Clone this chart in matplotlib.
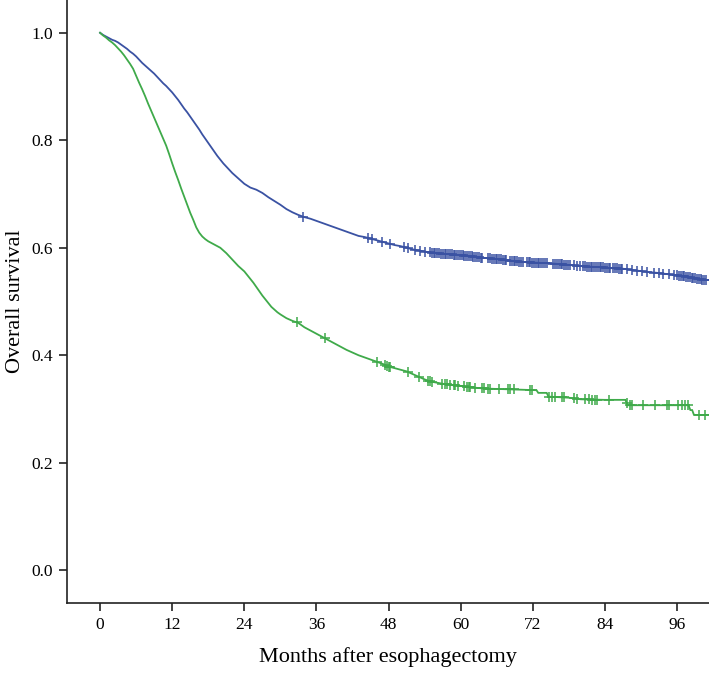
import numpy as np
import matplotlib
matplotlib.use("Agg")
import matplotlib.pyplot as plt

plt.rcParams['font.family'] = ['Liberation Serif', 'DejaVu Serif']

# ---- data ----
blue_t = [0, 0.5, 1, 1.5, 2, 2.5, 3, 3.5, 4, 4.5, 5, 5.5, 6, 6.5, 7, 7.5, 8, 8.5, 9, 9.5,
          10, 10.5, 11, 11.5, 12, 12.5, 13, 13.5, 14, 14.5, 15, 15.5, 16, 16.5, 17, 17.5,
          18, 18.5, 19, 19.5, 20, 20.5, 21, 21.5, 22, 22.5, 23, 23.5, 24, 25, 26, 27, 28,
          29, 30, 31, 32, 33, 34, 35, 36, 37, 38, 39, 40, 41, 42, 43, 44, 45, 46, 47, 48,
          49, 50, 51, 52, 53, 54, 55, 57, 59, 61, 63, 65, 67, 69, 71, 73, 75, 77, 79, 81,
          83, 85, 87, 89, 91, 93, 95, 97, 99, 100.5, 101.2]
blue_s = [1.000, 0.996, 0.993, 0.990, 0.987, 0.985, 0.982, 0.978, 0.974, 0.970, 0.965,
          0.961, 0.956, 0.950, 0.944, 0.939, 0.934, 0.929, 0.924, 0.918, 0.912, 0.906,
          0.901, 0.895, 0.889, 0.882, 0.875, 0.867, 0.859, 0.852, 0.844, 0.836, 0.828,
          0.820, 0.811, 0.803, 0.795, 0.787, 0.779, 0.771, 0.764, 0.757, 0.751, 0.745,
          0.739, 0.734, 0.729, 0.724, 0.719, 0.712, 0.708, 0.702, 0.694, 0.687, 0.680,
          0.672, 0.666, 0.661, 0.657, 0.654, 0.650, 0.646, 0.642, 0.638, 0.634, 0.630,
          0.626, 0.622, 0.620, 0.617, 0.614, 0.611, 0.608, 0.605, 0.603, 0.600, 0.597,
          0.595, 0.593, 0.591, 0.589, 0.587, 0.585, 0.582, 0.580, 0.578, 0.575, 0.573,
          0.572, 0.571, 0.569, 0.567, 0.565, 0.564, 0.562, 0.561, 0.558, 0.555, 0.553,
          0.550, 0.547, 0.543, 0.540, 0.540]
blue_cens = [33.8, 44.6, 45.2, 46.9, 48.3, 50.5, 51.3, 52.4, 53.2, 54.1,
             54.9, 55.2, 55.5, 55.8, 56.1, 56.4, 56.7, 57.0, 57.3, 57.6, 57.9, 58.2, 58.5,
             58.8, 59.1, 59.4, 59.7, 60.0, 60.3, 60.6, 60.9, 61.2, 61.5, 61.8, 62.1, 62.4,
             62.7, 63.0, 63.3, 63.6,
             64.6, 64.9, 65.2, 65.5, 65.8, 66.1, 66.4, 66.7, 67.0, 67.3, 67.6,
             68.2, 68.5, 68.8, 69.1, 69.4, 69.7, 70.0, 70.3,
             71.0, 71.3, 71.6, 71.9, 72.2, 72.5, 72.8, 73.1, 73.4, 73.7, 74.0, 74.3,
             75.4, 75.7, 76.0, 76.3, 76.6, 76.9, 77.2, 77.5, 77.8, 78.1,
             78.8, 79.3, 79.9,
             80.4, 80.7, 81.0, 81.3, 81.6, 81.9, 82.2, 82.5, 82.8, 83.1, 83.4, 83.7, 84.0,
             84.3, 84.6, 84.9,
             85.4, 85.7, 86.0, 86.3, 86.6, 86.9,
             87.6, 88.5, 89.3, 90.1, 91.0, 92.1, 92.9, 93.7, 94.6, 95.4,
             96.0, 96.3, 96.6, 96.9, 97.2, 97.5, 97.8, 98.1, 98.4, 98.7, 99.0, 99.3, 99.6,
             99.9, 100.2, 100.5, 100.8]

green_t = [0, 0.5, 1, 1.5, 2, 2.5, 3, 3.5, 4, 4.5, 5, 5.5, 6, 6.5, 7, 7.5, 8, 8.5, 9, 9.5,
           10, 10.5, 11, 11.5, 12, 12.5, 13, 13.5, 14, 14.5, 15, 15.5, 16, 16.5, 17, 17.5,
           18, 18.5, 19, 19.5, 20, 20.5, 21, 21.5, 22, 22.5, 23, 23.5, 24, 24.5, 25, 25.5,
           26, 26.5, 27, 27.5, 28, 28.5, 29, 29.5, 30, 31, 32, 33, 34, 35, 36, 37, 38, 39,
           40, 41, 42, 43, 44, 45, 46, 47, 48, 49, 50, 51, 52, 53, 54, 55, 56, 57, 58, 60,
           62, 64, 72.6, 72.9, 74.3, 74.6, 78, 80, 84, 87.4, 87.7, 97.9, 98.2, 98.5, 98.8,
           101.2]
green_s = [1.000, 0.995, 0.991, 0.986, 0.982, 0.977, 0.971, 0.965, 0.958, 0.950, 0.942,
           0.933, 0.920, 0.907, 0.895, 0.882, 0.868, 0.855, 0.842, 0.829, 0.816, 0.803,
           0.790, 0.774, 0.757, 0.741, 0.726, 0.710, 0.695, 0.680, 0.665, 0.652, 0.638,
           0.628, 0.621, 0.616, 0.612, 0.609, 0.606, 0.603, 0.600, 0.595, 0.590, 0.584,
           0.578, 0.572, 0.566, 0.561, 0.556, 0.549, 0.542, 0.535, 0.527, 0.519, 0.511,
           0.504, 0.497, 0.490, 0.485, 0.480, 0.476, 0.469, 0.464, 0.460, 0.452, 0.446,
           0.440, 0.434, 0.428, 0.422, 0.416, 0.410, 0.405, 0.400, 0.396, 0.392, 0.388,
           0.384, 0.379, 0.376, 0.373, 0.370, 0.365, 0.360, 0.355, 0.351, 0.349, 0.347,
           0.345, 0.343, 0.340, 0.338, 0.335, 0.330, 0.330, 0.323, 0.321, 0.318, 0.317,
           0.317, 0.307, 0.307, 0.298, 0.298, 0.289, 0.289]
green_cens = [32.7, 37.4, 46.0, 47.4, 47.7, 48.0, 48.3, 51.3, 53.0, 54.6, 54.9, 55.2,
              56.9, 57.4, 57.7, 58.2, 58.8, 59.1, 59.6, 60.5, 61.0, 61.3, 61.6, 62.4,
              63.5, 63.8, 64.6, 64.9, 66.3, 67.9, 68.2, 68.8, 71.6, 71.8, 74.6, 75.2,
              75.7, 76.8, 77.1, 78.8, 79.3, 80.7, 81.3, 81.8, 82.4, 82.6, 84.6, 87.6,
              88.2, 88.5, 90.4, 92.3, 94.3, 94.6, 96.2, 96.8, 97.3, 97.8, 99.6, 100.7]

x_ticks = [0, 12, 24, 36, 48, 60, 72, 84, 96]
y_ticks = [0.0, 0.2, 0.4, 0.6, 0.8, 1.0]

BLUE = '#3a52a3'
GREEN = '#3faa4a'

fig = plt.figure(figsize=(7.09, 6.73), dpi=100)
ax = fig.add_axes([0.0945, 0.104, 0.9055, 0.896])

for t, s, cens, col in [(blue_t, blue_s, blue_cens, BLUE), (green_t, green_s, green_cens, GREEN)]:
    ax.plot(t, s, color=col, lw=1.3, solid_joinstyle='miter')
    ax.plot(cens, np.interp(cens, t, s), linestyle='none', marker='+', ms=6.5, mew=1.1,
            color=col)

ax.set_xlim(-5.5, 101.3)
ax.set_ylim(-0.061, 1.061)
ax.set_xticks(x_ticks)
ax.set_xticklabels([str(v) for v in x_ticks])
ax.set_yticks(y_ticks)
ax.set_yticklabels([f"{v:.1f}" for v in y_ticks])
for side in ['top', 'right']:
    ax.spines[side].set_visible(False)
for side in ['left', 'bottom']:
    ax.spines[side].set_linewidth(1.2)
    ax.spines[side].set_color('#222222')
ax.tick_params(axis='both', direction='out', length=6, width=1.2, color='#222222',
               labelsize=12.5, pad=4)
ax.set_xlabel('Months after esophagectomy', fontsize=16, labelpad=10)
ax.set_ylabel('Overall survival', fontsize=16)
ax.yaxis.set_label_coords(-0.066, 0.5)

fig.savefig('out.png', dpi=100)
